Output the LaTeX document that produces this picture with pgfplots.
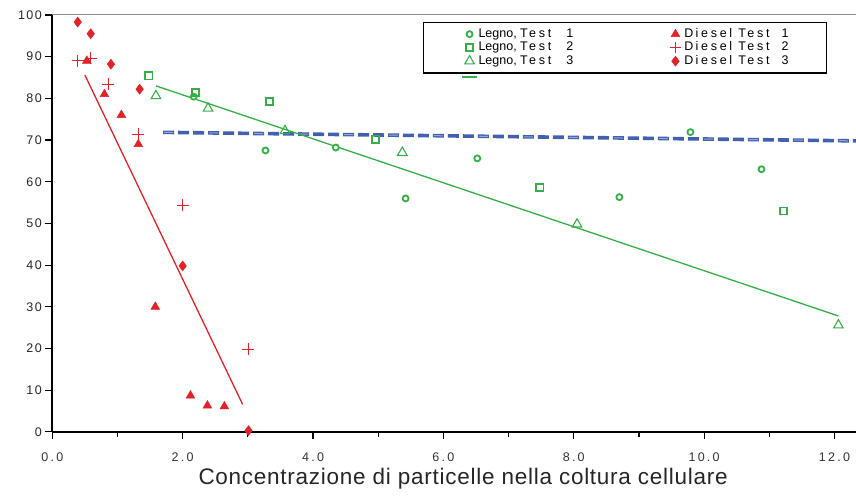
\documentclass[border=0pt]{standalone}
\usepackage{fontspec}
\setmainfont{Liberation Sans}
\newfontfamily\tickyf[LetterSpace=11]{Liberation Sans}
\newfontfamily\tickxf[LetterSpace=18]{Liberation Sans}
\newfontfamily\titlef[LetterSpace=3.3]{Liberation Sans}
\usepackage{pgfplots}
\pgfplotsset{compat=1.18}
\definecolor{lgreen}{RGB}{52,176,70}
\definecolor{dred}{RGB}{226,34,40}
\definecolor{tblue}{RGB}{66,96,178}
\definecolor{tbluel}{RGB}{150,168,215}
\newcommand\ls[1]{{\addfontfeature{LetterSpace=22}#1}}
\pgfplotsset{
  mk/.style={only marks, legend image code/.code={\path[draw=none,fill=none] (-8pt,0pt) (8pt,0pt);\draw[##1] plot coordinates {(0pt,0pt)};}},
}
\begin{document}
\begin{tikzpicture}
\begin{axis}[name=ax, scale only axis, width=804pt, height=417pt,
  xmin=0, xmax=12.33, ymin=0, ymax=100, clip=false,
  axis lines=left, axis line style={-, line width=1.6pt, black},
  xtick={0,2,...,12}, minor xtick={1,3,...,11}, ytick={0,10,...,100},
  xticklabels={0.0,2.0,4.0,6.0,8.0,10.0,12.0},
  yticklabels={0,10,20,30,40,50,60,70,80,90,100},
  tick align=outside, major tick length=7pt, minor tick length=5pt,
  tick style={line width=1.2pt, black},
  xticklabel style={font=\tickxf\fontsize{12.5}{12}\selectfont, anchor=base, yshift=-22.7pt, text=black!80},
  yticklabel style={font=\tickyf\fontsize{12.5}{12}\selectfont, anchor=east, text=black!85},
  every axis x label/.style={at={(axis description cs:0.5,0)}, anchor=base, yshift=-53pt, xshift=9pt},
  xlabel={Concentrazione di particelle nella coltura cellulare},
  xlabel style={font=\titlef\fontsize{22.5}{23}\selectfont, text=black!85},
  legend columns=2, legend cell align=left,
  legend style={at={(axis description cs:0.461,0.984)}, anchor=north west,
    draw=black, line width=1.5pt, inner xsep=38pt, inner ysep=5pt,
    font=\fontsize{12.5}{12}\selectfont, row sep=0pt,
    nodes={inner sep=1pt, text height=8.7pt, text depth=2.8pt}},
]
% trend lines
\addplot[tblue, line width=3.6pt, dash pattern=on 11pt off 4pt, forget plot] coordinates {(1.70,71.85) (12.33,69.8)};
\addplot[tbluel, line width=1pt, dash pattern=on 9pt off 36pt, dash phase=-1pt, forget plot] coordinates {(1.70,71.85) (12.33,69.8)};
\addplot[lgreen, line width=1.3pt, forget plot] coordinates {(1.59,83.0) (12.06,27.8)};
\addplot[dred, line width=1.3pt, forget plot] coordinates {(0.50,85.6) (2.92,6.6)};
% Legno, Test 1
\addplot[mk, mark=*, mark size=3pt, draw=lgreen, fill=white, line width=1.8pt] coordinates {
 (2.17,80.4) (3.27,67.5) (4.35,68.2) (5.42,56.0) (6.52,65.6) (8.70,56.3) (9.79,71.9) (10.88,63.0)};
\addlegendentry{\makebox[188pt][l]{Legno, \ls{Test}\hspace{15pt}1}}
% Diesel Test 1
\addplot[mk, mark=triangle*, mark size=5pt, color=dred, line width=0.5pt] coordinates {
 (0.53,89.0) (0.80,81.0) (1.06,76.0) (1.32,69.0) (1.58,30.0) (2.12,8.7) (2.38,6.3) (2.64,6.1)};
\addlegendentry{\makebox[103pt][l]{\ls{D\,iesel Test}\hspace{12pt}1}}
% Legno, Test 2
\addplot[mk, mark=square, mark size=3.6pt, color=lgreen, line width=1.6pt] coordinates {
 (1.48,85.4) (2.20,81.4) (3.33,79.2) (4.96,70.2) (7.48,58.6) (11.22,53.0)};
\addlegendentry{\makebox[188pt][l]{Legno, \ls{Test}\hspace{15pt}2}}
% Diesel Test 2
\addplot[only marks, mark=+, mark size=6pt, color=dred, line width=1.1pt,
  legend image code/.code={\path[draw=none] (-8pt,0pt) (8pt,0pt);
    \draw[dred, line width=1.2pt, solid] (-5.5pt,0pt) -- (5.5pt,0pt) (0pt,-5.5pt) -- (0pt,5.5pt);}] coordinates {
 (0.39,89.0) (0.59,89.6) (0.86,83.4) (1.32,71.4) (2.00,54.4) (3.01,19.8)};
\addlegendentry{\makebox[103pt][l]{\ls{D\,iesel Test}\hspace{12pt}2}}
% Legno, Test 3
\addplot[mk, mark=triangle, mark size=5.5pt, color=lgreen, line width=1.1pt] coordinates {
 (1.59,80.6) (2.39,77.6) (3.57,72.2) (5.37,67.0) (8.05,49.8) (12.06,25.6)};
\addlegendentry{\makebox[188pt][l]{Legno, \ls{Test}\hspace{15pt}3}}
% Diesel Test 3
\addplot[mk, mark=diamond*, mark size=5pt, color=dred, line width=0.5pt] coordinates {
 (0.39,98.3) (0.59,95.5) (0.90,88.2) (1.34,82.2) (2.00,39.8) (3.01,0.3)};
\addlegendentry{\makebox[103pt][l]{\ls{D\,iesel Test}\hspace{12pt}3}}
% top frame line and legend line stub
\draw[black!45, line width=1pt] (rel axis cs:0,1) -- (rel axis cs:1,1);
\draw[lgreen, line width=1.3pt] (axis description cs:0.510,0.851) -- ++(15pt,0);
\end{axis}
\pgfresetboundingbox
\path ([xshift=-52.3pt,yshift=-66pt]ax.south west) rectangle ([yshift=15pt]ax.north east);
\end{tikzpicture}
\end{document}
